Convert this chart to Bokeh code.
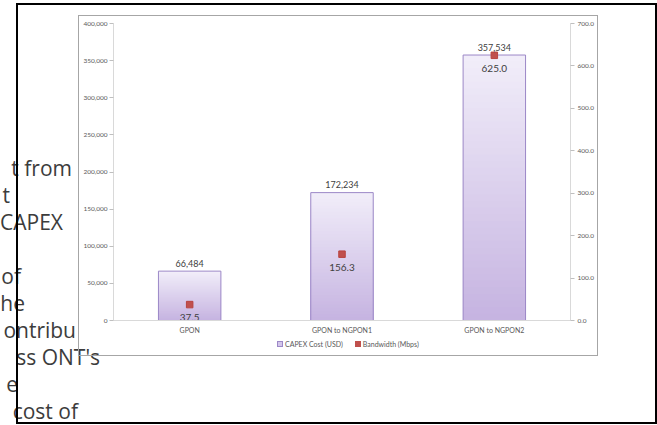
import html
from bokeh.plotting import figure
from bokeh.layouts import column
from bokeh.models import (Range1d, LinearAxis, Div, NumeralTickFormatter, FixedTicker, ColumnDataSource)
from bokeh.core.properties import value
from bokeh.embed import file_html
from bokeh.resources import INLINE

# ---------------- data ----------------
categories = ["GPON", "GPON to NGPON1", "GPON to NGPON2"]
capex_usd = [66484, 172234, 357534]
bandwidth_mbps = [37.5, 156.3, 625.0]
capex_ticks = [0, 50000, 100000, 150000, 200000, 250000, 300000, 350000, 400000]
bandwidth_ticks = [0, 100, 200, 300, 400, 500, 600, 700]
series_names = ["CAPEX Cost (USD)", "Bandwidth (Mbps)"]
side_text = ["t from", "t", "CAPEX", "of", "he", "ontribu", "ss ONT's", "e", "cost of"]

# ---------------- layout (page pixels) ----------------
PAGE_W, PAGE_H = 657, 425
FL, FR, FT, FB = 113, 570, 23, 320                        # plot frame edges
CL, CT, CR, CB = 79, 16, 597, 355                         # chart figure canvas
side_rows = [0, 1, 2, 4, 5, 6, 7, 8, 9]
side_right = [72, 10, 63, 21, 25, 76, 100, 18, 78]
first_baseline, line_pitch = 177, 26.9
SIDE_FONT_PX = 21
SIDE_ASCENT = 18.65          # baseline offset inside a 21px line box (Open Sans)
LEGEND_LEFT, LEGEND_MID = 277, 344

CHART_FONT = "Lato"
BAR_TOP = (0xF1, 0xED, 0xF9)
BAR_BOTTOM = (0xC6, 0xB4, 0xE1)
BAR_LINE = "#9c88c7"
RED = "#c0504d"

# ================= page background: document text, frames, legend =================
parts = [f'<div style="position:relative;width:{PAGE_W}px;height:{PAGE_H}px;overflow:hidden;'
         f'background:white;">']
for txt, row, xr in zip(side_text, side_rows, side_right):
    top = first_baseline + row * line_pitch - SIDE_ASCENT
    parts.append(f'<div style="position:absolute;right:{PAGE_W - xr}px;top:{top:.1f}px;'
                 f'font-family:\'Open Sans\';font-size:{SIDE_FONT_PX}px;line-height:{SIDE_FONT_PX}px;'
                 f'white-space:nowrap;color:#3c3c3c;">{html.escape(txt)}</div>')
parts.append('<div style="position:absolute;left:78px;top:15px;width:520px;height:341px;'
             'border:1px solid #a6a6a6;box-sizing:border-box;"></div>')
parts.append('<div style="position:absolute;left:16px;top:3px;width:641px;height:421px;'
             'border:2px solid #000;box-sizing:border-box;"></div>')
sq = 'display:inline-block;width:6px;height:6px;box-sizing:border-box;margin-right:2px;'
parts.append(f'<div style="position:absolute;left:{LEGEND_LEFT}px;top:{LEGEND_MID - 5}px;height:10px;'
             f'display:flex;align-items:center;white-space:nowrap;font-family:{CHART_FONT};'
             f'font-size:7px;color:#595959;">'
             f'<span style="{sq}background:#d3c6ea;border:1px solid {BAR_LINE};"></span>'
             f'<span style="margin-right:12px;">{html.escape(series_names[0])}</span>'
             f'<span style="{sq}background:{RED};"></span>'
             f'<span>{html.escape(series_names[1])}</span></div>')
parts.append('</div>')
page = Div(text="".join(parts), width=PAGE_W, height=PAGE_H, margin=0)

# ================= chart =================
pos = list(range(len(categories)))   # category slots on a linear axis

p = figure(width=CR - CL, height=CB - CT, x_range=Range1d(-0.5, len(categories) - 0.5),
           y_range=Range1d(0, capex_ticks[-1]),
           output_backend="svg", toolbar_location=None,
           min_border_left=FL - CL, min_border_right=CR - FR,
           min_border_top=FT - CT, min_border_bottom=CB - FB)
p.styles = {"position": "absolute", "left": f"{CL}px", "top": f"{CT}px"}
p.title.visible = False
p.extra_y_ranges = {"bw": Range1d(0, bandwidth_ticks[-1])}
p.background_fill_color = None
p.border_fill_color = None
p.outline_line_color = None
p.xgrid.grid_line_color = None
p.ygrid.grid_line_color = None

def style_axis(ax, size):
    ax.axis_line_color = "#d9d9d9"
    ax.major_tick_line_color = "#bfbfbf"
    ax.minor_tick_line_color = None
    ax.major_label_text_font = CHART_FONT
    ax.major_label_text_font_size = size
    ax.major_label_text_color = "#595959"

ya = p.yaxis[0]
ya.ticker = FixedTicker(ticks=capex_ticks)
ya.formatter = NumeralTickFormatter(format="0,0")
style_axis(ya, "6.5px")
ya.major_tick_out = 4
ya.major_tick_in = 0
ya.major_label_standoff = 2

yr = LinearAxis(y_range_name="bw", ticker=FixedTicker(ticks=bandwidth_ticks),
                formatter=NumeralTickFormatter(format="0.0"))
style_axis(yr, "6.5px")
yr.major_tick_out = 4
yr.major_tick_in = 0
yr.major_label_standoff = 3
p.add_layout(yr, "right")

xa = p.xaxis[0]
xa.ticker = FixedTicker(ticks=pos)
xa.major_label_overrides = {i: c for i, c in zip(pos, categories)}
style_axis(xa, "7px")
xa.major_tick_line_color = None
xa.major_tick_out = 0
xa.major_tick_in = 0
xa.major_label_standoff = 5

# bars with a vertical gradient
BAR_W = 0.41
N = 40
gx, gtop, gcol = [], [], []
for k in range(N):
    t = k / (N - 1)
    rgb = tuple(round(a + (b - a) * t) for a, b in zip(BAR_TOP, BAR_BOTTOM))
    col = "#%02x%02x%02x" % rgb
    for xi, v in zip(pos, capex_usd):
        gx.append(xi)
        gtop.append(v * (N - k) / N)
        gcol.append(col)
p.vbar(x="x", top="top", bottom=0, width=BAR_W, fill_color="color", line_color=None,
       source=ColumnDataSource(dict(x=gx, top=gtop, color=gcol)))
p.vbar(x=pos, top=capex_usd, bottom=0, width=BAR_W,
       fill_color=None, line_color=BAR_LINE, line_width=1)

# bandwidth markers
p.scatter(x=pos, y=bandwidth_mbps, y_range_name="bw", marker="square", size=6.5,
          fill_color=RED, line_color="#b8433f")

# data labels
p.text(x=pos, y=capex_usd, text=[f"{v:,}" for v in capex_usd],
       text_font=value(CHART_FONT), text_font_size=value("9px"), text_color="#404040",
       text_align="center", text_baseline="middle", y_offset=-8)
p.text(x=pos, y=bandwidth_mbps, y_range_name="bw", text=[f"{v:.1f}" for v in bandwidth_mbps],
       text_font=value(CHART_FONT), text_font_size=value("10px"), text_color="#404040",
       text_align="center", text_baseline="middle", y_offset=13)

layout = column(page, p)
open("out.html", "w").write(file_html(layout, INLINE))
